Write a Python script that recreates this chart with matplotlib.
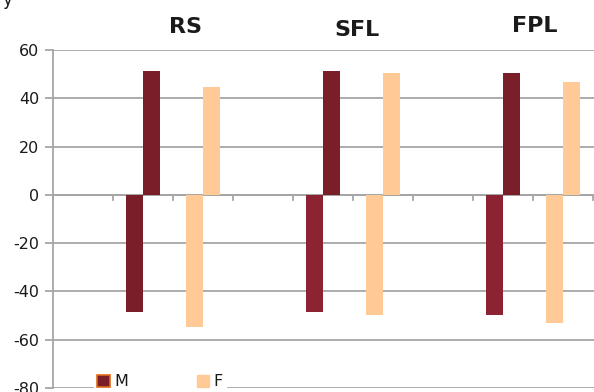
import matplotlib
matplotlib.use("Agg")
import matplotlib.pyplot as plt
from matplotlib.patches import Patch

groups = ["RS", "SFL", "FPL"]
m_neg = [-48.6, -48.6, -49.7]
m_pos = [51.3, 51.3, 50.3]
f_neg = [-54.8, -49.6, -53.2]
f_pos = [44.6, 50.3, 46.6]
yticks = [60, 40, 20, 0, -20, -40, -60, -80]

dark = "#7A1E2A"
red = "#8C2332"
peach = "#FFCA96"
grid = "#A6A6A6"

W, H = 594, 392
fig = plt.figure(figsize=(W / 100, H / 100), dpi=100)
ax = fig.add_axes([53 / W, 4 / H, 541 / W, 338 / H])

bw = 17 / 60
neg_colors = [dark, red, red]
for i in range(len(groups)):
    xm = 3 * i + 1
    xf = 3 * i + 2
    ax.bar(xm - bw / 2, m_neg[i], bw, color=neg_colors[i], zorder=3)
    ax.bar(xm + bw / 2, m_pos[i], bw, color=dark, zorder=3)
    ax.bar(xf - bw / 2, f_neg[i], bw, color=peach, zorder=3)
    ax.bar(xf + bw / 2, f_pos[i], bw, color=peach, zorder=3)

ax.set_xlim(-0.5, 8.517)
ax.set_ylim(-80, 60)
ax.set_yticks(yticks)
ax.set_yticklabels([str(v) for v in yticks], fontsize=11.5, color="#1a1a1a")
ax.yaxis.grid(True, color=grid, linewidth=1.3, zorder=0)
ax.tick_params(axis="y", length=6, color=grid, width=1.3, pad=4)
ax.set_xticks([])
for s in ["top", "right", "bottom"]:
    ax.spines[s].set_visible(False)
ax.spines["left"].set_color(grid)
ax.spines["left"].set_linewidth(1.3)
ax.axhline(0, color=grid, linewidth=1.3, zorder=2)
for k in range(10):
    ax.plot([k - 0.5, k - 0.5], [0, -2.2], color=grid, linewidth=1.3, zorder=2, clip_on=False)

title_pos = [(185, 27), (357, 30), (535, 26)]
for g, (px, py) in zip(groups, title_pos):
    fig.text(px / W, 1 - py / H, g, fontsize=16, fontweight="bold", ha="center", va="center", color="#1a1a1a")

fig.text(2 / W, 1 - 0 / H, "y", fontsize=12, ha="left", va="center", color="#1a1a1a")

handles = [Patch(facecolor=dark, edgecolor="#E06A1A", linewidth=1.2, label="M"),
           Patch(facecolor=peach, edgecolor=peach, label="F")]
leg = fig.legend(handles=handles, ncol=2, loc="center", bbox_to_anchor=(160 / W, 1 - 382 / H),
                 frameon=True, fontsize=11.5, handlelength=0.8, handleheight=0.8,
                 handletextpad=0.25, columnspacing=4.3, borderpad=0.2)
leg.get_frame().set_facecolor("white")
leg.get_frame().set_edgecolor("white")
leg.get_frame().set_alpha(1)
for t in leg.get_texts():
    t.set_color("#1a1a1a")

fig.savefig("out.png", dpi=100)
